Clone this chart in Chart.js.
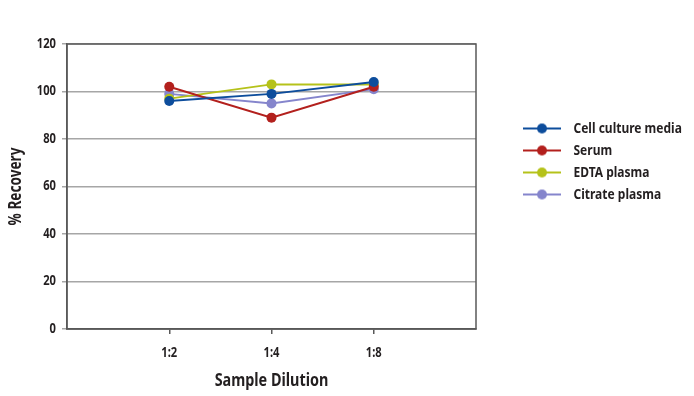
<!DOCTYPE html>
<html>
<head>
<meta charset="utf-8">
<script src="https://cdn.jsdelivr.net/npm/chart.js@4.4.1/dist/chart.umd.min.js"></script>
<style>
html,body{margin:0;padding:0;background:#fff;}
#wrap{width:694px;height:396px;position:relative;}
</style>
</head>
<body>
<div id="wrap"><canvas id="c" width="694" height="396"></canvas></div>
<script>
const categories = ['1:2', '1:4', '1:8'];
const cellCulture = [96, 99, 104];
const serum = [102, 89, 102];
const edta = [97, 103, 103];
const citrate = [99, 95, 101];
const yTicks = [0, 20, 40, 60, 80, 100, 120];

const FONT = "'Noto Sans', 'Liberation Sans', sans-serif";
const WEIGHT = 'bold';
const TEXT = '#231f20';

// Render all chart text in a condensed face (horizontal squeeze), like the original's condensed font.
const canvas = document.getElementById('c');
const ctx2d = canvas.getContext('2d');
const SX = 0.8;
const origFill = ctx2d.fillText.bind(ctx2d);
const origMeasure = ctx2d.measureText.bind(ctx2d);
ctx2d.fillText = function (t, x, y) {
  ctx2d.save();
  ctx2d.translate(x, y);
  ctx2d.scale(SX, 1);
  origFill(t, 0, 0);
  ctx2d.restore();
};
ctx2d.measureText = function (t) {
  const m = origMeasure(t);
  return {
    width: m.width * SX,
    actualBoundingBoxAscent: m.actualBoundingBoxAscent,
    actualBoundingBoxDescent: m.actualBoundingBoxDescent,
    actualBoundingBoxLeft: m.actualBoundingBoxLeft * SX,
    actualBoundingBoxRight: m.actualBoundingBoxRight * SX
  };
};

function legendIcon(color) {
  const cv = document.createElement('canvas');
  cv.width = 38; cv.height = 12;
  const g = cv.getContext('2d');
  g.strokeStyle = color; g.lineWidth = 2;
  g.beginPath(); g.moveTo(0, 6); g.lineTo(38, 6); g.stroke();
  g.fillStyle = color;
  g.beginPath(); g.arc(19, 6, 5, 0, Math.PI * 2); g.fill();
  return cv;
}

function series(label, values, color) {
  return {
    label,
    data: values.map((v, i) => ({ x: i + 1, y: v })),
    borderColor: color,
    backgroundColor: color,
    pointBackgroundColor: color,
    pointBorderColor: color,
    pointRadius: 5,
    pointBorderWidth: 0,
    borderWidth: 2,
    tension: 0,
    icon: legendIcon(color)
  };
}

const datasets = [
  series('Cell culture media', cellCulture, '#0d4d9c'),
  series('Serum', serum, '#b3201d'),
  series('EDTA plasma', edta, '#b5c21a'),
  series('Citrate plasma', citrate, '#8585cc')
];

const frame = {
  id: 'frame',
  afterLayout(chart) {
    const l = chart.legend;
    const w = 175, h = 100;
    l.left = 511; l.right = l.left + w; l.width = w;
    l.top = 114; l.bottom = l.top + h; l.height = h;
  },
  beforeDatasetsDraw(chart) {
    const a = chart.chartArea, ctx = chart.ctx;
    ctx.save();
    ctx.strokeStyle = '#595959';
    ctx.lineWidth = 1.5;
    ctx.strokeRect(a.left, a.top, a.right - a.left, a.bottom - a.top);
    ctx.restore();
  }
};

new Chart(canvas, {
  type: 'line',
  data: { datasets },
  plugins: [frame],
  options: {
    responsive: false,
    animation: false,
    layout: { padding: { top: 44, right: 218, bottom: 0, left: 0 } },
    plugins: {
      tooltip: { enabled: false },
      legend: {
        position: 'chartArea',
        align: 'start',
        labels: {
          usePointStyle: true,
          pointStyleWidth: 48,
          padding: 7,
          color: TEXT,
          font: { family: FONT, size: 15, weight: WEIGHT },
          generateLabels(chart) {
            return chart.data.datasets.map((ds, i) => ({
              text: ds.label,
              pointStyle: ds.icon,
              fillStyle: ds.borderColor,
              strokeStyle: ds.borderColor,
              lineWidth: 0,
              fontColor: TEXT,
              datasetIndex: i,
              hidden: false
            }));
          }
        }
      }
    },
    scales: {
      x: {
        type: 'linear',
        min: 0, max: 4,
        afterFit(s) { s.height = 67; },
        ticks: {
          stepSize: 1,
          autoSkip: false,
          maxRotation: 0,
          padding: 11,
          color: TEXT,
          font: { family: FONT, size: 14, weight: WEIGHT },
          callback: (v) => categories[v - 1] || ''
        },
        grid: {
          drawOnChartArea: false,
          tickLength: 5,
          color: (c) => (c.tick && (c.tick.value === 0 || c.tick.value === 4)) ? 'rgba(0,0,0,0)' : '#595959',
          lineWidth: 1.5
        },
        border: { display: true, color: '#595959', width: 1.5 },
        title: {
          display: true,
          text: 'Sample Dilution',
          color: TEXT,
          font: { family: FONT, size: 18, weight: WEIGHT },
          padding: { top: 10, bottom: 4 }
        }
      },
      y: {
        min: 0, max: 120,
        afterFit(s) { s.width = 67; },
        afterBuildTicks(s) { s.ticks = yTicks.map(v => ({ value: v })); },
        ticks: {
          stepSize: 20,
          padding: 6,
          color: TEXT,
          font: { family: FONT, size: 14, weight: WEIGHT }
        },
        grid: {
          color: '#a6a6a6',
          lineWidth: 1.5,
          tickLength: 5
        },
        border: { display: true, color: '#595959', width: 1.5 },
        title: {
          display: true,
          text: '% Recovery',
          color: TEXT,
          font: { family: FONT, size: 17, weight: WEIGHT },
          padding: { top: 6, bottom: 6 }
        }
      }
    }
  }
});
</script>
</body>
</html>
